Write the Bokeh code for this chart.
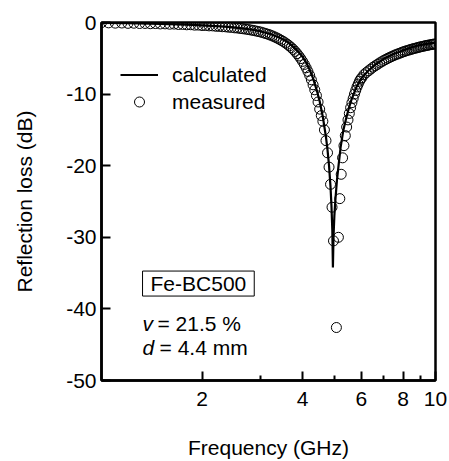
from bokeh.plotting import figure
from bokeh.models import FixedTicker, Legend, LegendItem, Label, Range1d, NumeralTickFormatter
from bokeh.embed import file_html
from bokeh.resources import INLINE

# ---- data ----
freq_calc = [1.0, 1.2, 1.4, 1.6, 1.8, 2.0, 2.2, 2.4, 2.6, 2.8, 3.0, 3.2, 3.4, 3.6, 3.8,
             4.0, 4.1, 4.2, 4.3, 4.4, 4.5, 4.6, 4.7, 4.75, 4.8, 4.85, 4.88, 4.91, 4.93,
             4.95, 4.98, 5.02, 5.07, 5.13, 5.2, 5.3, 5.4, 5.5, 5.6, 5.8, 6.0, 6.3, 6.6,
             7.0, 7.5, 8.0, 8.5, 9.0, 9.5, 10.0]
rl_calc = [-0.05, -0.1, -0.15, -0.22, -0.3, -0.4, -0.5, -0.62, -0.78, -0.98, -1.25, -1.6,
           -2.1, -2.7, -3.6, -4.8, -5.6, -6.6, -7.8, -9.3, -11.0, -13.2, -16.0, -17.8,
           -20.0, -23.0, -25.5, -29.0, -34.2, -30.0, -27.0, -24.5, -22.0, -19.8, -17.4,
           -15.0, -13.4, -12.0, -10.8, -9.0, -7.8, -6.7, -5.9, -5.1, -4.4, -3.9, -3.45,
           -3.15, -2.95, -2.8]

freq_meas = [1.00, 1.05, 1.10, 1.15, 1.20, 1.25, 1.30, 1.35, 1.40, 1.45,
             1.50, 1.55, 1.60, 1.65, 1.70, 1.75, 1.80, 1.85, 1.90, 1.95,
             2.00, 2.05, 2.10, 2.15, 2.20, 2.25, 2.30, 2.35, 2.40, 2.45,
             2.50, 2.55, 2.60, 2.65, 2.70, 2.75, 2.80, 2.85, 2.90, 2.95,
             3.00, 3.05, 3.10, 3.15, 3.20, 3.25, 3.30, 3.35, 3.40, 3.45,
             3.50, 3.55, 3.60, 3.65, 3.70, 3.75, 3.80, 3.85, 3.90, 3.95,
             4.00, 4.05, 4.10, 4.15, 4.20, 4.25, 4.30, 4.35, 4.40, 4.45,
             4.50, 4.55, 4.60, 4.65, 4.70, 4.75, 4.80, 4.85, 4.90, 4.95,
             5.05, 5.12, 5.17, 5.22, 5.27, 5.32, 5.37, 5.42, 5.47, 5.52,
             5.57, 5.62, 5.67, 5.72, 5.77, 5.82, 5.87, 5.92, 5.97, 6.02,
             6.1, 6.2, 6.3, 6.4, 6.5, 6.6, 6.7, 6.8, 6.9, 7.0,
             7.1, 7.2, 7.3, 7.4, 7.5, 7.6, 7.7, 7.8, 7.9, 8.0,
             8.1, 8.2, 8.3, 8.4, 8.5, 8.6, 8.7, 8.8, 8.9, 9.0,
             9.1, 9.2, 9.3, 9.4, 9.5, 9.6, 9.7, 9.8, 9.9, 10.0]
rl_meas = [-0.02, -0.05, -0.09, -0.07, -0.12, -0.10, -0.14, -0.13, -0.17, -0.15,
           -0.20, -0.19, -0.24, -0.22, -0.28, -0.27, -0.32, -0.31, -0.37, -0.36,
           -0.42, -0.42, -0.47, -0.47, -0.53, -0.54, -0.59, -0.60, -0.66, -0.68,
           -0.74, -0.77, -0.83, -0.87, -0.93, -0.98, -1.05, -1.11, -1.19, -1.26,
           -1.34, -1.44, -1.54, -1.64, -1.75, -1.88, -2.02, -2.16, -2.31, -2.48,
           -2.65, -2.84, -3.04, -3.26, -3.50, -3.76, -4.04, -4.35, -4.68, -5.04,
           -5.43, -5.86, -6.32, -6.83, -7.38, -8.0, -8.7, -9.4, -10.2, -11.1,
           -12.1, -13.0, -13.8, -15.0, -16.5, -18.2, -20.2, -22.6, -25.8, -30.5,
           -42.6, -30.0, -24.6, -21.2, -18.9, -17.2, -15.8, -14.6, -13.6, -12.7,
           -11.9, -11.2, -10.6, -10.0, -9.5, -9.0, -8.6, -8.2, -7.9, -7.7,
           -7.3, -7.0, -6.75, -6.5, -6.25, -6.05, -5.85, -5.65, -5.48, -5.3,
           -5.15, -5.0, -4.87, -4.74, -4.62, -4.5, -4.4, -4.3, -4.2, -4.1,
           -4.02, -3.94, -3.86, -3.79, -3.72, -3.65, -3.59, -3.53, -3.47, -3.41,
           -3.36, -3.31, -3.26, -3.21, -3.17, -3.13, -3.09, -3.05, -3.02, -2.99]

x_ticks = [2, 4, 6, 8, 10]
x_minor = [3, 5, 7, 9]
y_ticks = [0, -10, -20, -30, -40, -50]

FONT = "Liberation Sans"
FS = "21px"

p = figure(width=449, height=461, x_axis_type="log",
           x_range=Range1d(1, 10), y_range=Range1d(-50, 0),
           output_backend="svg", toolbar_location=None,
           min_border_left=101, min_border_right=14, min_border_top=22, min_border_bottom=79,
           x_axis_label="Frequency (GHz)", y_axis_label="Reflection loss (dB)")

p.grid.visible = False
p.outline_line_color = "black"
p.outline_line_width = 2.5
p.background_fill_color = "white"
p.border_fill_color = "white"

for ax in (p.xaxis[0], p.yaxis[0]):
    ax.axis_line_width = 2.5
    ax.axis_line_color = "black"
    ax.major_tick_line_color = "black"
    ax.major_tick_line_width = 2
    ax.minor_tick_line_color = "black"
    ax.minor_tick_line_width = 2
    ax.major_tick_out = 0
    ax.minor_tick_out = 0
    ax.major_label_text_font = FONT
    ax.major_label_text_font_size = FS
    ax.major_label_text_color = "black"
    ax.axis_label_text_font = FONT
    ax.axis_label_text_font_size = FS
    ax.axis_label_text_font_style = "normal"
    ax.axis_label_text_color = "black"

p.xaxis.ticker = FixedTicker(ticks=x_ticks, minor_ticks=x_minor)
p.xaxis.formatter = NumeralTickFormatter(format="0")
p.xaxis.major_label_overrides = {t: str(t) for t in x_ticks}
p.xaxis.major_tick_in = 9
p.xaxis.minor_tick_in = 5
p.xaxis.major_label_standoff = 11
p.xaxis.axis_label_standoff = 27

p.yaxis.ticker = FixedTicker(ticks=y_ticks, minor_ticks=[])
p.yaxis.major_label_overrides = {t: str(t) for t in y_ticks}
p.yaxis.major_tick_in = 9
p.yaxis.minor_tick_in = 0
p.yaxis.major_label_standoff = 5
p.yaxis.axis_label_standoff = 27

r_calc = p.line(freq_calc, rl_calc, line_color="black", line_width=2.2)
r_meas = p.scatter(freq_meas, rl_meas, marker="circle", size=10,
                   fill_color=None, line_color="black", line_width=1)

legend = Legend(items=[LegendItem(label="calculated", renderers=[r_calc]),
                       LegendItem(label="measured", renderers=[r_meas])],
                location=(19, 266), padding=0, margin=0, spacing=2,
                glyph_width=38, glyph_height=25, label_height=25, label_standoff=14,
                label_text_font=FONT, label_text_font_size=FS, label_text_color="black",
                border_line_color=None, background_fill_alpha=0)
p.add_layout(legend)

box = Label(x=1.327, y=-36.46, text="Fe-BC500", text_font=FONT, text_font_size=FS,
            text_align="left", text_baseline="middle", text_color="black",
            border_line_color="black", border_line_width=1,
            padding=dict(left=8, right=8, top=1, bottom=1))
p.add_layout(box)

p.add_layout(Label(x=1.327, y=-42.08, text="v", text_font=FONT, text_font_size=FS,
                   text_font_style="italic", text_align="left", text_baseline="middle",
                   text_color="black"))
p.add_layout(Label(x=1.471, y=-42.08, text="= 21.5 %", text_font=FONT, text_font_size=FS,
                   text_align="left", text_baseline="middle", text_color="black"))
p.add_layout(Label(x=1.327, y=-45.42, text="d", text_font=FONT, text_font_size=FS,
                   text_font_style="italic", text_align="left", text_baseline="middle",
                   text_color="black"))
p.add_layout(Label(x=1.492, y=-45.42, text="= 4.4 mm", text_font=FONT, text_font_size=FS,
                   text_align="left", text_baseline="middle", text_color="black"))

open("out.html", "w").write(file_html(p, INLINE))
